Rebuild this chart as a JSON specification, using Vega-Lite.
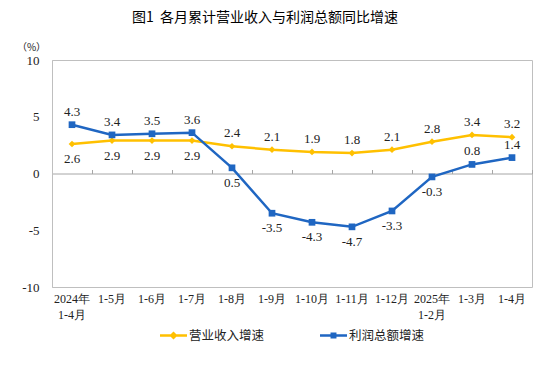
{
  "$schema": "https://vega.github.io/schema/vega-lite/v6.json",
  "width": 480,
  "height": 227,
  "autosize": {"type": "none"},
  "padding": {"left": 52, "top": 60, "right": 27, "bottom": 83},
  "background": "white",
  "title": {
    "text": "图1\u00a0\u00a0各月累计营业收入与利润总额同比增速",
    "frame": "group",
    "anchor": "middle",
    "offset": 17,
    "dx": -27,
    "font": "Noto Sans CJK SC",
    "fontSize": 14,
    "fontWeight": "normal",
    "color": "#000000"
  },
  "config": {
    "view": {"stroke": "#BFBFBF", "strokeWidth": 1},
    "axis": {"grid": false}
  },
  "data": {
    "values": [
      {"month": "2024年|1-4月", "series": "营业收入增速", "value": 2.6},
      {"month": "1-5月", "series": "营业收入增速", "value": 2.9},
      {"month": "1-6月", "series": "营业收入增速", "value": 2.9},
      {"month": "1-7月", "series": "营业收入增速", "value": 2.9},
      {"month": "1-8月", "series": "营业收入增速", "value": 2.4},
      {"month": "1-9月", "series": "营业收入增速", "value": 2.1},
      {"month": "1-10月", "series": "营业收入增速", "value": 1.9},
      {"month": "1-11月", "series": "营业收入增速", "value": 1.8},
      {"month": "1-12月", "series": "营业收入增速", "value": 2.1},
      {"month": "2025年|1-2月", "series": "营业收入增速", "value": 2.8},
      {"month": "1-3月", "series": "营业收入增速", "value": 3.4},
      {"month": "1-4月", "series": "营业收入增速", "value": 3.2},
      {"month": "2024年|1-4月", "series": "利润总额增速", "value": 4.3},
      {"month": "1-5月", "series": "利润总额增速", "value": 3.4},
      {"month": "1-6月", "series": "利润总额增速", "value": 3.5},
      {"month": "1-7月", "series": "利润总额增速", "value": 3.6},
      {"month": "1-8月", "series": "利润总额增速", "value": 0.5},
      {"month": "1-9月", "series": "利润总额增速", "value": -3.5},
      {"month": "1-10月", "series": "利润总额增速", "value": -4.3},
      {"month": "1-11月", "series": "利润总额增速", "value": -4.7},
      {"month": "1-12月", "series": "利润总额增速", "value": -3.3},
      {"month": "2025年|1-2月", "series": "利润总额增速", "value": -0.3},
      {"month": "1-3月", "series": "利润总额增速", "value": 0.8},
      {"month": "1-4月", "series": "利润总额增速", "value": 1.4}
    ]
  },
  "resolve": {
    "axis": {"x": "independent"},
    "scale": {"shape": "independent", "color": "independent"},
    "legend": {"color": "independent", "shape": "independent"}
  },
  "layer": [
    {
      "mark": {"type": "line", "strokeWidth": 2.5},
      "encoding": {
        "x": {
          "field": "month", "type": "nominal", "sort": null,
          "axis": {
            "title": null, "domain": false, "ticks": false,
            "labelExpr": "split(datum.label, '|')",
            "labelAngle": 0, "labelFont": "Liberation Serif", "labelFontSize": 12,
            "labelPadding": 6, "labelColor": "#222222", "labelLineHeight": 16, "labelBaseline": "top"
          }
        },
        "y": {
          "field": "value", "type": "quantitative",
          "scale": {"domain": [-10, 10], "nice": false},
          "axis": {
            "values": [-10, -5, 0, 5, 10],
            "labelExpr": "'' + datum.value",
            "title": "（%）", "titleAngle": 0, "titleAlign": "center", "titleBaseline": "middle",
            "titleX": -21, "titleY": -13, "titleFont": "Noto Sans CJK SC", "titleFontSize": 10, "titleFontWeight": "normal", "titleColor": "#222222",
            "labelFont": "Liberation Serif", "labelFontSize": 13, "labelColor": "#222222", "labelPadding": 13,
            "domain": true, "domainColor": "#BFBFBF", "ticks": false
          }
        },
        "color": {
          "field": "series", "type": "nominal",
          "scale": {"domain": ["营业收入增速", "利润总额增速"], "range": ["#FFC000", "#1F66C2"]},
          "legend": null
        }
      }
    },
    {
      "mark": {"type": "point", "filled": true, "opacity": 1},
      "encoding": {
        "x": {
          "field": "month", "type": "nominal", "sort": null,
          "axis": {
            "orient": "bottom", "offset": -113.5, "labels": false, "title": null,
            "domain": true, "domainColor": "#A6A6A6", "ticks": true, "tickBand": "extent",
            "tickSize": -4, "tickColor": "#A6A6A6"
          }
        },
        "y": {"field": "value", "type": "quantitative"},
        "color": {
          "field": "series", "type": "nominal",
          "scale": {"domain": ["营业收入增速", "利润总额增速"], "range": ["#FFC000", "#1F66C2"]},
          "legend": null
        },
        "shape": {
          "field": "series", "type": "nominal",
          "scale": {"domain": ["营业收入增速", "利润总额增速"], "range": ["diamond", "square"]},
          "legend": null
        },
        "size": {"value": 45}
      }
    },
    {
      "transform": [{"filter": "false"}],
      "mark": {"type": "point", "filled": true, "opacity": 1},
      "encoding": {
        "x": {"field": "month", "type": "nominal", "sort": null, "axis": null},
        "y": {"field": "value", "type": "quantitative"},
        "color": {
          "field": "series", "type": "nominal",
          "scale": {"domain": ["营业收入增速", "利润总额增速"], "range": ["#FFC000", "#1F66C2"]},
          "legend": {
            "orient": "none", "legendX": 107, "legendY": 261, "direction": "horizontal",
            "title": null, "padding": 0, "labelFont": "Noto Sans CJK SC", "labelFontSize": 12.5,
            "labelColor": "#222222", "labelOffset": 1, "columnPadding": 54,
            "symbolSize": 729, "symbolOpacity": 1
          }
        },
        "shape": {
          "field": "series", "type": "nominal",
          "scale": {
            "domain": ["营业收入增速", "利润总额增速"],
            "range": ["M-1,-0.093H1V0.093H-1Z M-0.3,0L0,-0.3L0.3,0L0,0.3Z", "M-1,-0.093H1V0.093H-1Z M-0.22,-0.22H0.22V0.22H-0.22Z"]
          },
          "legend": null
        }
      }
    },
    {
      "transform": [
        {"filter": "!((datum.series == '营业收入增速' && (datum.month == '2024年|1-4月' || datum.month == '1-5月' || datum.month == '1-6月' || datum.month == '1-7月')) || (datum.series == '利润总额增速' && datum.value < 0.6))"}
      ],
      "mark": {"type": "text", "dy": -13, "font": "Liberation Serif", "fontSize": 13, "color": "#222222", "baseline": "middle"},
      "encoding": {
        "x": {"field": "month", "type": "nominal", "sort": null, "axis": null},
        "y": {"field": "value", "type": "quantitative"},
        "text": {"field": "value", "type": "nominal"}
      }
    },
    {
      "transform": [
        {"filter": "(datum.series == '营业收入增速' && (datum.month == '2024年|1-4月' || datum.month == '1-5月' || datum.month == '1-6月' || datum.month == '1-7月')) || (datum.series == '利润总额增速' && datum.value < 0.6)"}
      ],
      "mark": {"type": "text", "dy": 15, "font": "Liberation Serif", "fontSize": 13, "color": "#222222", "baseline": "middle"},
      "encoding": {
        "x": {"field": "month", "type": "nominal", "sort": null, "axis": null},
        "y": {"field": "value", "type": "quantitative"},
        "text": {"field": "value", "type": "nominal"}
      }
    }
  ]
}
